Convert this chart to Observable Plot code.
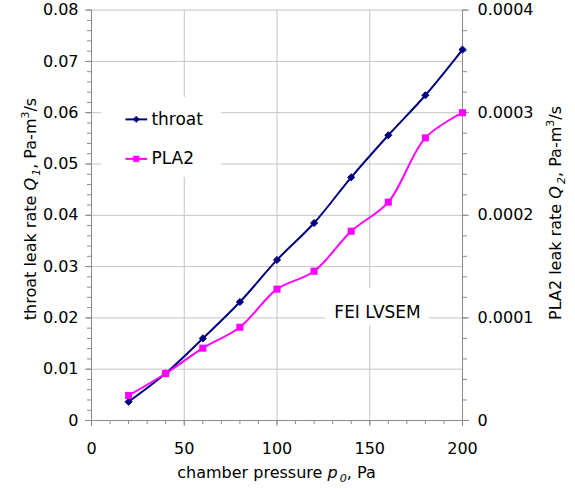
<!DOCTYPE html>
<html>
<head>
<meta charset="utf-8">
<script src="https://cdn.jsdelivr.net/npm/d3@7"></script>
<script src="https://cdn.jsdelivr.net/npm/@observablehq/plot@0.6"></script>
<style>
  html, body { margin: 0; padding: 0; background: white; }
</style>
</head>
<body>
<div id="chart"></div>
<script>
// ---- data ----
const pressure = [20, 40, 60, 80, 100, 120, 140, 160, 180, 200];           // Pa
const throatQ  = [0.00365, 0.0092, 0.0160, 0.0231, 0.0313, 0.0385, 0.0474, 0.0556, 0.0634, 0.0723]; // Q1
const pla2Q    = [0.0000244, 0.0000458, 0.0000705, 0.0000909, 0.000128, 0.0001455, 0.0001845, 0.0002128, 0.0002755, 0.0003]; // Q2
const xTicks      = [0, 50, 100, 150, 200];
const yLeftTicks  = [0, 0.01, 0.02, 0.03, 0.04, 0.05, 0.06, 0.07, 0.08];
const yRightTicks = [0, 0.0001, 0.0002, 0.0003, 0.0004];
const seriesNames = ["throat", "PLA2"];
const noteText = "FEI LVSEM";

// right axis maps onto left axis by this factor (0.0004 <-> 0.08)
const k = 0.08 / 0.0004;

const throatData = pressure.map((p, i) => ({p, q: throatQ[i]}));
const plaData = pressure.map((p, i) => ({p, q: pla2Q[i] * k}));

const navy = "#000080", magenta = "#ff00ff";
const gridColor = "#c4c4c4", axisColor = "#8c8c8c";

// legend & note placement (in data space)
const legendBox = {x1: 5.4, x2: 70.1, y1: 0.0474, y2: 0.0630};
const legendRows = [
  {name: seriesNames[0], y: 0.0587, color: navy, symbol: "diamond2", r: 3.2},
  {name: seriesNames[1], y: 0.0510, color: magenta, symbol: "square", r: 4}
];
const noteBox = {x1: 126.1, x2: 182.2, y1: 0.0185, y2: 0.0257, tx: 154.2, ty: 0.0211};

const fmtL = d => d === 0 ? "0" : d.toFixed(2);
const fmtR = d => d === 0 ? "0" : (d / k).toFixed(4);

const svg = Plot.plot({
  width: 575,
  height: 489,
  marginLeft: 91,
  marginRight: 113,
  marginTop: 9.6,
  marginBottom: 69,
  style: {fontFamily: "DejaVu Sans", fontSize: "16px", background: "white", color: "black"},
  x: {domain: [0, 200]},
  y: {domain: [0, 0.08]},
  marks: [
    Plot.gridX(xTicks.filter(d => d > 0), {stroke: gridColor, strokeOpacity: 1}),
    Plot.gridY(yLeftTicks.filter(d => d > 0), {stroke: gridColor, strokeOpacity: 1}),
    // white boxes behind legend and note
    Plot.rect([legendBox, noteBox], {x1: "x1", x2: "x2", y1: "y1", y2: "y2", fill: "white"}),
    // axis lines
    Plot.ruleX([0], {stroke: axisColor}),
    Plot.ruleX([200], {stroke: axisColor}),
    Plot.ruleY([0], {stroke: axisColor}),
    // bottom axis
    Plot.axisX({ticks: d3.range(0, 201, 10), tickSize: 4, fill: "none", stroke: axisColor, label: null}),
    Plot.axisX({ticks: xTicks, tickSize: 6, fill: "none", stroke: axisColor, label: null}),
    Plot.axisX({ticks: xTicks, tickSize: 0, tickPadding: 22, tickFormat: d => String(d), label: null}),
    // left axis
    Plot.axisY({ticks: d3.range(0, 41).map(i => i * 0.002), tickSize: 4, fill: "none", stroke: axisColor, label: null}),
    Plot.axisY({ticks: yLeftTicks, tickSize: 6, fill: "none", stroke: axisColor, label: null}),
    Plot.axisY({ticks: yLeftTicks, tickSize: 0, tickPadding: 13, tickFormat: fmtL, label: null}),
    // right axis
    Plot.axisY({anchor: "right", ticks: d3.range(0, 21).map(i => i * 0.004), tickSize: 4, fill: "none", stroke: axisColor, label: null}),
    Plot.axisY({anchor: "right", ticks: yRightTicks.map(d => d * k), tickSize: 6, fill: "none", stroke: axisColor, label: null}),
    Plot.axisY({anchor: "right", ticks: yRightTicks.map(d => d * k), tickSize: 0, tickPadding: 15, tickFormat: fmtR, label: null}),
    // series
    Plot.line(throatData, {x: "p", y: "q", stroke: navy, strokeWidth: 2, curve: "catmull-rom"}),
    Plot.line(plaData, {x: "p", y: "q", stroke: magenta, strokeWidth: 2, curve: "catmull-rom"}),
    Plot.dot(throatData, {x: "p", y: "q", symbol: "diamond2", r: 3.2, fill: navy, stroke: navy, strokeWidth: 1}),
    Plot.dot(plaData, {x: "p", y: "q", symbol: "square", r: 4, fill: magenta}),
    // legend
    Plot.link(legendRows, {x1: 18.3, x2: 30.0, y1: "y", y2: "y", stroke: "color", strokeWidth: 2}),
    Plot.dot(legendRows, {x: 24.1, y: "y", symbol: "symbol", r: "r", fill: "color", stroke: "color", strokeWidth: 0.5}),
    Plot.text(legendRows, {x: 32.3, y: "y", text: "name", textAnchor: "start", fontSize: 17, fill: "black"}),
    // note
    Plot.text([noteBox], {x: "tx", y: "ty", text: () => noteText, fontSize: 17, fill: "black"})
  ]
});

document.getElementById("chart").appendChild(svg);

const s = d3.select(svg);
const lab = s.append("g").attr("font-family", "DejaVu Sans").attr("font-size", 16).attr("fill", "black");

// x label
const tx = lab.append("text").attr("x", 276.5).attr("y", 478).attr("text-anchor", "middle");
tx.append("tspan").text("chamber pressure ");
tx.append("tspan").attr("font-style", "italic").text("p");
tx.append("tspan").attr("font-style", "italic").attr("font-size", 11).attr("dy", 4).text("\u20090");
tx.append("tspan").attr("dy", -4).text(", Pa");

// left label
const tl = lab.append("text").attr("transform", "translate(36,209) rotate(-90)").attr("text-anchor", "middle");
tl.append("tspan").text("throat leak rate ");
tl.append("tspan").attr("font-style", "italic").text("Q");
tl.append("tspan").attr("font-style", "italic").attr("font-size", 11).attr("dy", 4).text("\u20091");
tl.append("tspan").attr("dy", -4).text(", Pa-m");
tl.append("tspan").attr("font-size", 11).attr("dy", -7).text("3");
tl.append("tspan").attr("dy", 7).text("/s");

// right label
const tr = lab.append("text").attr("transform", "translate(561,213) rotate(-90)").attr("text-anchor", "middle");
tr.append("tspan").text("PLA2 leak rate ");
tr.append("tspan").attr("font-style", "italic").text("Q");
tr.append("tspan").attr("font-style", "italic").attr("font-size", 11).attr("dy", 4).text("\u20092");
tr.append("tspan").attr("dy", -4).text(", Pa-m");
tr.append("tspan").attr("font-size", 11).attr("dy", -7).text("3");
tr.append("tspan").attr("dy", 7).text("/s");
</script>
</body>
</html>
